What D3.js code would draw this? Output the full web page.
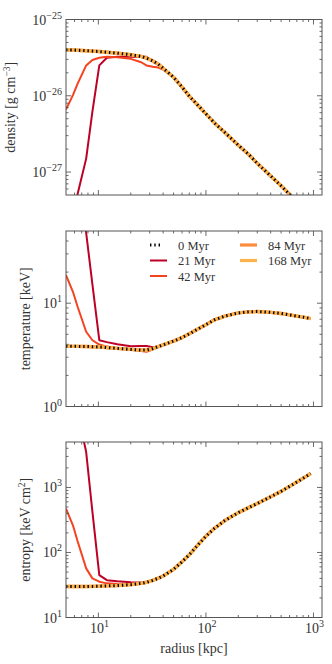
<!DOCTYPE html>
<html>
<head>
<meta charset="utf-8">
<script src="https://cdn.jsdelivr.net/npm/d3@7"></script>
<style>
  body { margin: 0; background: #fff; }
  svg text { font-family: "Liberation Serif", "DejaVu Serif", serif; fill: #333; }
</style>
</head>
<body>
<svg id="chart" width="332" height="664"></svg>
<script>

// radius grid [kpc]
const radius = [5, 5.8, 6.4, 7.7, 8.8, 10.2, 12, 15, 20, 25, 28, 32, 36, 40, 50, 60, 70, 85,
  100, 120, 150, 200, 250, 300, 400, 500, 600, 700, 850, 940];

// density [g cm^-3]
const dens0 = [4.0e-26, 3.98e-26, 3.95e-26, 3.9e-26, 3.85e-26, 3.8e-26, 3.72e-26, 3.62e-26, 3.45e-26,
  3.28e-26, 3.12e-26, 2.88e-26, 2.6e-26, 2.3e-26, 1.75e-26, 1.3e-26, 9.9e-27, 7.4e-27,
  5.8e-27, 4.4e-27, 3.3e-27, 2.25e-27, 1.7e-27, 1.3e-27, 8.9e-28, 6.6e-28, 5.1e-28, 4.0e-28, 3.0e-28, 2.6e-28];
const dens21 = [1.2e-28, 2.8e-28, 5.1e-28, 1.5e-27, 6.2e-27, 2.5e-26, 3.15e-26, 3.25e-26, 3.25e-26,
  3.22e-26, 3.25e-26, 2.8e-26, 2.55e-26, 2.3e-26, 1.75e-26, 1.3e-26, 9.9e-27, 7.4e-27,
  5.8e-27, 4.4e-27, 3.3e-27, 2.25e-27, 1.7e-27, 1.3e-27, 8.9e-28, 6.6e-28, 5.1e-28, 4.0e-28, 3.0e-28, 2.6e-28];
const dens42 = [6.6e-27, 1.02e-26, 1.43e-26, 2.5e-26, 2.95e-26, 3.15e-26, 3.25e-26, 3.2e-26, 3.05e-26,
  2.75e-26, 2.5e-26, 2.4e-26, 2.35e-26, 2.2e-26, 1.75e-26, 1.3e-26, 9.9e-27, 7.4e-27,
  5.8e-27, 4.4e-27, 3.3e-27, 2.25e-27, 1.7e-27, 1.3e-27, 8.9e-28, 6.6e-28, 5.1e-28, 4.0e-28, 3.0e-28, 2.6e-28];

// temperature [keV]
const temp0 = [3.83, 3.82, 3.82, 3.81, 3.79, 3.77, 3.72, 3.65, 3.57, 3.52, 3.52, 3.64, 3.8, 3.95,
  4.3, 4.65, 5.05, 5.65, 6.2, 6.9, 7.5, 8.05, 8.25, 8.3, 8.15, 7.95, 7.7, 7.5, 7.25, 7.1];
const temp21 = [800, 400, 200, 48, 15.2, 4.38, 4.2, 4.0, 3.83, 3.85, 3.85, 3.75, 3.82, 3.95,
  4.3, 4.65, 5.05, 5.65, 6.2, 6.9, 7.5, 8.05, 8.25, 8.3, 8.15, 7.95, 7.7, 7.5, 7.25, 7.1];
const temp42 = [18.7, 12.9, 9.3, 5.29, 4.38, 3.98, 3.8, 3.65, 3.55, 3.45, 3.38, 3.55, 3.78, 3.95,
  4.3, 4.65, 5.05, 5.65, 6.2, 6.9, 7.5, 8.05, 8.25, 8.3, 8.15, 7.95, 7.7, 7.5, 7.25, 7.1];

// entropy [keV cm^2]
const ent0 = [29.9, 29.9, 30.0, 30.0, 30.1, 30.3, 30.6, 31.0, 32.0, 33.5, 34.8, 37.3, 40.2, 43.5,
  55, 72, 92, 133, 178, 235, 310, 410, 490, 565, 720, 870, 1040, 1210, 1470, 1640];
const ent21 = [1e5, 3e4, 1.5e4, 3500, 424, 44.9, 37.5, 36, 34.8, 34.5, 35.2, 37.3, 40.2, 43.5,
  55, 72, 92, 133, 178, 235, 310, 410, 490, 565, 720, 870, 1040, 1210, 1470, 1640];
const ent42 = [472, 262, 150, 57, 40, 35.5, 33.5, 32.8, 32.5, 33.6, 34.8, 37.3, 40.2, 43.5,
  55, 72, 92, 133, 178, 235, 310, 410, 490, 565, 720, 870, 1040, 1210, 1470, 1640];

// 84 and 168 Myr profiles sit on top of the initial one
const dens84 = dens0, dens168 = dens0;
const temp84 = temp0, temp168 = temp0;
const ent84 = ent0, ent168 = ent0;

const times = ["0 Myr", "21 Myr", "42 Myr", "84 Myr", "168 Myr"];
const colors = ["#000000", "#bd0026", "#f5421f", "#fd8d3c", "#feb24c"];

const xTicks = [1, 2, 3];           // exponents
const densTicks = [-27, -26, -25];
const tempTicks = [0, 1];
const entTicks = [1, 2, 3];

const svg = d3.select("#chart");
const left = 66, right = 322, ph = 175.5;

const x = d3.scaleLog().domain([5, 1200]).range([left, right]);

const panels = [
  {top: 19.5, domain: [5e-28, 1e-25], ticks: densTicks, data: [dens0, dens21, dens42, dens84, dens168],
   label: ["density [g cm", "−3", "]"], labelX: 15},
  {top: 231, domain: [1, 50], ticks: tempTicks, data: [temp0, temp21, temp42, temp84, temp168],
   label: ["temperature [keV]"], labelX: 30},
  {top: 442, domain: [10, 5000], ticks: entTicks, data: [ent0, ent21, ent42, ent84, ent168],
   label: ["entropy [keV cm", "2", "]"], labelX: 30}
];

function minors(lo, hi) {
  const out = [];
  for (let e = Math.floor(Math.log10(lo)); e <= Math.ceil(Math.log10(hi)); e++)
    for (let m = 2; m <= 9; m++) {
      const v = m * Math.pow(10, e);
      if (v > lo && v < hi) out.push(v);
    }
  return out;
}

function powLabel(sel, exp) {
  sel.append("tspan").text("10");
  sel.append("tspan").attr("dy", -6).attr("font-size", "10px")
    .text(exp < 0 ? "−" + (-exp) : exp);
}

panels.forEach((p, pi) => {
  const bottom = p.top + ph;
  const y = d3.scaleLog().domain(p.domain).range([bottom, p.top]);
  const g = svg.append("g");

  const clipId = "clip" + pi;
  svg.append("clipPath").attr("id", clipId)
    .append("rect").attr("x", left).attr("y", p.top).attr("width", right - left).attr("height", ph);

  const line = d3.line().x((d, i) => x(radius[i])).y(d => y(d));

  // evolved runs first, initial profile dotted on top
  const lines = g.append("g").attr("clip-path", "url(#" + clipId + ")");
  [1, 2, 3, 4, 0].forEach(k => {
    const path = lines.append("path")
      .datum(p.data[k])
      .attr("d", line)
      .attr("fill", "none")
      .attr("stroke", colors[k])
      .attr("stroke-linejoin", "round");
    if (k === 0) path.attr("stroke-width", 3).attr("stroke-dasharray", "1.4,2.9");
    else if (k >= 3) path.attr("stroke-width", 3.4);
    else path.attr("stroke-width", 2);
  });

  // ticks on all four sides, pointing in
  const xMaj = xTicks.map(e => Math.pow(10, e));
  const xMin = minors(5, 1200);
  const yMaj = p.ticks.map(e => Math.pow(10, e));
  const yMin = minors(p.domain[0], p.domain[1]);
  const axes = g.append("g").attr("stroke", "#444").attr("stroke-width", 0.8);
  const tick = (vals, len, side) => vals.forEach(v => {
    if (side === "b") axes.append("line").attr("x1", x(v)).attr("x2", x(v)).attr("y1", bottom).attr("y2", bottom - len);
    if (side === "t") axes.append("line").attr("x1", x(v)).attr("x2", x(v)).attr("y1", p.top).attr("y2", p.top + len);
    if (side === "l") axes.append("line").attr("y1", y(v)).attr("y2", y(v)).attr("x1", left).attr("x2", left + len);
    if (side === "r") axes.append("line").attr("y1", y(v)).attr("y2", y(v)).attr("x1", right).attr("x2", right - len);
  });
  ["b", "t"].forEach(s => { tick(xMaj, 5, s); tick(xMin, 2.5, s); });
  ["l", "r"].forEach(s => { tick(yMaj, 5, s); tick(yMin, 2.5, s); });
  g.append("rect").attr("x", left).attr("y", p.top).attr("width", right - left).attr("height", ph)
    .attr("fill", "none").attr("stroke", "#555").attr("stroke-width", 1);

  // y tick labels
  p.ticks.forEach(e => {
    const t = g.append("text").attr("x", 62).attr("y", y(Math.pow(10, e)) + 5)
      .attr("text-anchor", "end").attr("font-size", "14px");
    powLabel(t, e);
  });

  // y label
  const yl = g.append("text")
    .attr("transform", "translate(" + p.labelX + "," + (p.top + ph / 2) + ") rotate(-90)")
    .attr("text-anchor", "middle").attr("font-size", "14px");
  yl.append("tspan").text(p.label[0]);
  if (p.label.length > 1) {
    yl.append("tspan").attr("dy", -5.5).attr("font-size", "9.5px").text(p.label[1]);
    yl.append("tspan").attr("dy", 5.5).text(p.label[2]);
  }

  if (pi === 2) {
    xTicks.forEach(e => {
      const t = g.append("text").attr("x", x(Math.pow(10, e)) + 1).attr("y", bottom + 15.5)
        .attr("text-anchor", "middle").attr("font-size", "14px");
      powLabel(t, e);
    });
    g.append("text").attr("x", (left + right) / 2).attr("y", bottom + 35.5)
      .attr("text-anchor", "middle").attr("font-size", "14px").text("radius [kpc]");
  }

  if (pi === 1) {
    const leg = g.append("g");
    times.forEach((name, k) => {
      const col = k < 3 ? 0 : 1, row = k < 3 ? k : k - 3;
      const lx = left + (col ? 174 : 84), ly = p.top + 14 + row * 15.5;
      const h = leg.append("line").attr("x1", lx).attr("x2", lx + 17).attr("y1", ly).attr("y2", ly)
        .attr("stroke", colors[k]);
      if (k === 0) h.attr("stroke-width", 3).attr("stroke-dasharray", "1.4,2.9").attr("x2", lx + 12);
      else h.attr("stroke-width", k >= 3 ? 3.2 : 2);
      leg.append("text").attr("x", lx + 28).attr("y", ly + 4.5).attr("font-size", "12.5px").text(name);
    });
  }
});
</script>
</body>
</html>
